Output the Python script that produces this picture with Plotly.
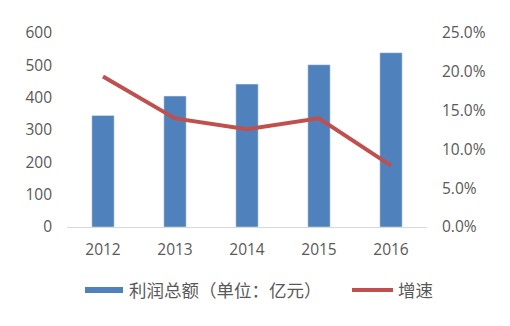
import plotly.graph_objects as go

years = ["2012", "2013", "2014", "2015", "2016"]
profit = [345, 405, 442, 502, 539]
growth = [0.194, 0.140, 0.126, 0.140, 0.079]
bar_name = "利润总额（单位：亿元）"
line_name = "增速"

BLUE = "#4f81bd"
RED = "#c0504d"
GREY = "#595959"
FONT = "Open Sans, Noto Sans CJK SC, sans-serif"

fig = go.Figure()
fig.add_trace(go.Bar(x=years, y=profit, name=bar_name, marker_color=BLUE,
                     width=0.31, showlegend=False))
fig.add_trace(go.Scatter(x=years, y=growth, name=line_name, yaxis="y2",
                         mode="lines", line=dict(color=RED, width=4),
                         showlegend=False))

fig.update_layout(
    width=510, height=326,
    margin=dict(l=67, r=83, t=33, b=99),
    paper_bgcolor="white", plot_bgcolor="white",
    font=dict(family=FONT, size=15.5, color=GREY),
    xaxis=dict(showgrid=False, showline=True, linecolor="#d9d9d9", linewidth=1,
               ticks="", ticklabelstandoff=8, zeroline=False),
    yaxis=dict(range=[0, 600], dtick=100, showgrid=False, zeroline=False,
               showline=False, ticks="", ticklabelstandoff=14),
    yaxis2=dict(range=[0, 0.25], dtick=0.05, tickformat=".1%", overlaying="y",
                side="right", showgrid=False, zeroline=False, showline=False,
                ticks="", ticklabelstandoff=14),
    showlegend=False,
)

# manual legend (paper coordinates)
fig.add_shape(type="rect", xref="paper", yref="paper",
              x0=(85 - 67) / 360, x1=(123 - 67) / 360,
              y0=(227 - 293) / 194, y1=(227 - 287) / 194,
              fillcolor=BLUE, line_width=0)
fig.add_annotation(text=bar_name, xref="paper", yref="paper",
                   x=(127 - 67) / 360, y=(227 - 290) / 194,
                   xanchor="left", yanchor="middle", showarrow=False,
                   font=dict(size=17.5, color=GREY, family=FONT))
fig.add_shape(type="line", xref="paper", yref="paper",
              x0=(352 - 67) / 360, x1=(393 - 67) / 360,
              y0=(227 - 290) / 194, y1=(227 - 290) / 194,
              line=dict(color=RED, width=4))
fig.add_annotation(text=line_name, xref="paper", yref="paper",
                   x=(396 - 67) / 360, y=(227 - 290) / 194,
                   xanchor="left", yanchor="middle", showarrow=False,
                   font=dict(size=17.5, color=GREY, family=FONT))

fig.write_html("out.html")
